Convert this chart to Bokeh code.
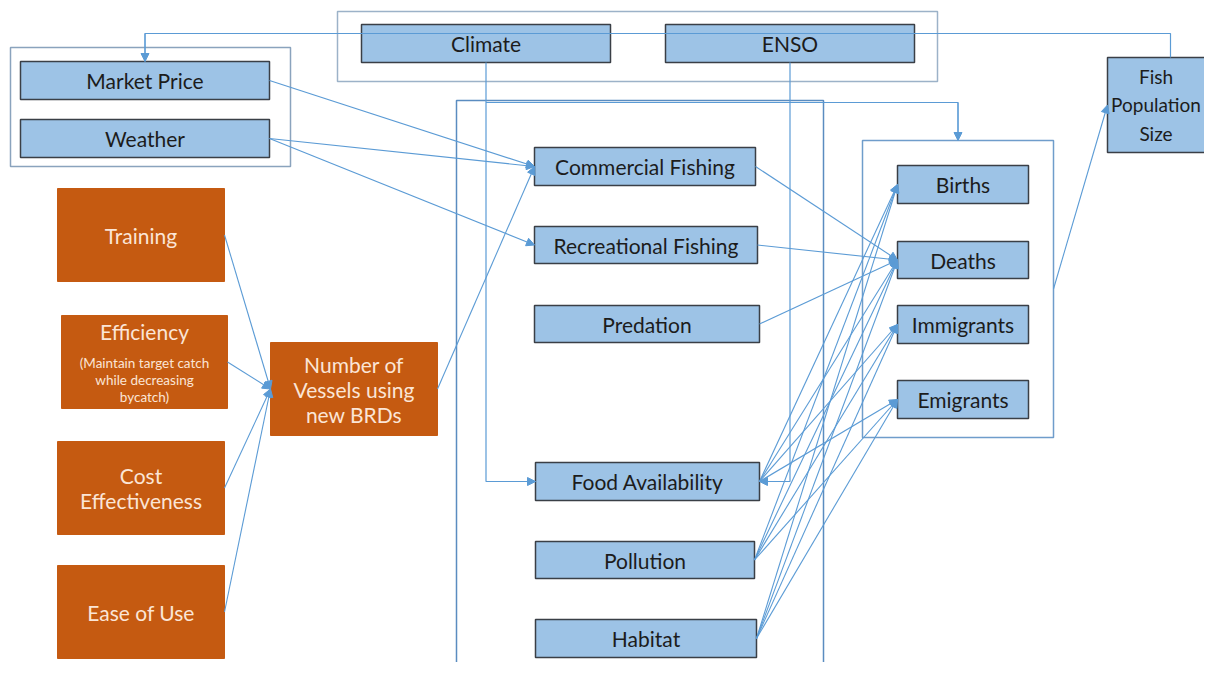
from bokeh.plotting import figure
from bokeh.models import Range1d, Arrow, NormalHead, ColumnDataSource
from bokeh.core.properties import value
from bokeh.embed import file_html
from bokeh.resources import INLINE

# ---------------- content ----------------
blue_keys = ["climate", "enso", "market", "weather", "commercial", "recreational",
             "predation", "food", "pollution", "habitat", "births", "deaths",
             "immigrants", "emigrants"]
blue_labels = ["Climate", "ENSO", "Market Price", "Weather", "Commercial Fishing",
               "Recreational Fishing", "Predation", "Food Availability", "Pollution",
               "Habitat", "Births", "Deaths", "Immigrants", "Emigrants"]
fishpop_label = "Fish\nPopulation\nSize"
orange_keys = ["training", "efficiency", "cost", "ease", "vessels"]
orange_labels = ["Training", "Efficiency", "Cost\nEffectiveness", "Ease of Use",
                 "Number of\nVessels using\nnew BRDs"]
efficiency_note = "(Maintain target catch\nwhile decreasing\nbycatch)"

# straight influence links (source -> target)
links_src = ["market", "weather", "weather", "vessels",
             "training", "efficiency", "cost", "ease",
             "commercial", "recreational", "predation",
             "food", "food", "food", "food",
             "pollution", "pollution", "pollution", "pollution",
             "habitat", "habitat", "habitat", "habitat",
             "dynamics"]
links_dst = ["commercial", "commercial", "recreational", "commercial",
             "vessels", "vessels", "vessels", "vessels",
             "deaths", "deaths", "deaths",
             "births", "deaths", "immigrants", "emigrants",
             "births", "deaths", "immigrants", "emigrants",
             "births", "deaths", "immigrants", "emigrants",
             "fishpop"]

# ---------------- layout (reference pixel space) ----------------
W, H = 1204, 662
LAYOUT = {
    "climate": (361, 24, 610, 62), "enso": (665, 24, 914, 62),
    "market": (20, 61, 269, 99), "weather": (20, 119, 269, 157),
    "commercial": (534, 147, 755, 185), "recreational": (534, 226, 757, 263),
    "predation": (534, 305, 759, 342), "food": (535, 462, 759, 500),
    "pollution": (535, 541, 754, 578), "habitat": (535, 619, 756, 657),
    "births": (897, 165, 1028, 203), "deaths": (897, 241, 1028, 278),
    "immigrants": (897, 305, 1028, 343), "emigrants": (897, 380, 1028, 418),
    "fishpop": (1107, 57, 1233, 152),
    "training": (57, 188, 224, 281), "efficiency": (61, 315, 227, 408),
    "cost": (57, 441, 224, 534), "ease": (57, 565, 224, 658),
    "vessels": (270, 342, 437, 435),
}
GROUPS = {
    "drivers": (337, 11, 937, 81), "economy": (10, 47, 290, 166),
    "pressures": (456, 100, 823, 720), "dynamics": (862, 140, 1053, 437),
}
GROUP_COLORS = {"drivers": "#9cb2c8", "economy": "#8aa3bd",
                "pressures": "#5a8cc0", "dynamics": "#6f9dcb"}
ROUTE_TOP = 33
ROUTE_MID = 102

BLUE_FILL = "#9dc3e6"
ORANGE_FILL = "#c55a11"
LINK = "#5b9bd5"

ALL = dict(LAYOUT)
ALL.update(GROUPS)


def right_mid(k):
    x0, y0, x1, y1 = ALL[k]
    return x1, (y0 + y1) / 2


def left_mid(k):
    x0, y0, x1, y1 = ALL[k]
    return x0, (y0 + y1) / 2


def center(k):
    x0, y0, x1, y1 = ALL[k]
    return (x0 + x1) / 2, (y0 + y1) / 2


p = figure(width=W, height=H, output_backend="svg", toolbar_location=None,
           x_range=Range1d(0, W), y_range=Range1d(H, 0), min_border=0,
           background_fill_color="white", border_fill_color="white")
p.axis.visible = False
p.grid.visible = False
p.outline_line_color = None

# group frames
gk = list(GROUPS)
p.quad(left=[GROUPS[k][0] for k in gk], right=[GROUPS[k][2] for k in gk],
       top=[GROUPS[k][1] for k in gk], bottom=[GROUPS[k][3] for k in gk],
       fill_color=None, line_color=[GROUP_COLORS[k] for k in gk], line_width=1.5)

# blue boxes
bk = blue_keys + ["fishpop"]
p.quad(left=[LAYOUT[k][0] for k in bk], right=[LAYOUT[k][2] for k in bk],
       top=[LAYOUT[k][1] for k in bk], bottom=[LAYOUT[k][3] for k in bk],
       fill_color=BLUE_FILL, line_color="#3a3f46", line_width=1.5)
# orange boxes
p.quad(left=[LAYOUT[k][0] for k in orange_keys], right=[LAYOUT[k][2] for k in orange_keys],
       top=[LAYOUT[k][1] for k in orange_keys], bottom=[LAYOUT[k][3] for k in orange_keys],
       fill_color=ORANGE_FILL, line_color=ORANGE_FILL, line_width=1)

# routed connectors (polylines) with arrow on final segment
fx, fy = center("fishpop")
mx, _ = center("market")
cx, _ = center("climate")
ex, _ = center("enso")
dx, _ = center("dynamics")
food_l = left_mid("food")
food_r = right_mid("food")
routes = [
    ([fx, fx, mx, mx], [ALL["fishpop"][1], ROUTE_TOP, ROUTE_TOP, ALL["market"][1]]),
    ([cx, cx, food_l[0]], [ALL["climate"][3], food_l[1], food_l[1]]),
    ([cx, dx, dx], [ROUTE_MID, ROUTE_MID, ALL["dynamics"][1]]),
    ([ex, ex, food_r[0]], [ALL["enso"][3], food_r[1], food_r[1]]),
]
p.multi_line(xs=[r[0] for r in routes], ys=[r[1] for r in routes],
             line_color=LINK, line_width=1.2)

xs0, ys0, xs1, ys1 = [], [], [], []
for xs, ys in routes:
    xs0.append(xs[-2]); ys0.append(ys[-2]); xs1.append(xs[-1]); ys1.append(ys[-1])
for s, d in zip(links_src, links_dst):
    a = right_mid(s)
    b = left_mid(d)
    xs0.append(a[0]); ys0.append(a[1]); xs1.append(b[0]); ys1.append(b[1])
src = ColumnDataSource(dict(x0=xs0, y0=ys0, x1=xs1, y1=ys1))
p.add_layout(Arrow(source=src, x_start="x0", y_start="y0", x_end="x1", y_end="y1",
                   line_color=LINK, line_width=1.1,
                   end=NormalHead(size=8, fill_color=LINK, line_color=LINK, line_width=1)))

# labels
FONT = value("Lato")
bx = [center(k)[0] for k in blue_keys]
by = [center(k)[1] for k in blue_keys]
p.text(x=bx, y=by, text=blue_labels, text_align="center", text_baseline="middle",
       text_font=FONT, text_font_size="21px", text_color="#1c1c1c")

# fish population label centred in the visible part of its box
f0, f1, f2, f3 = LAYOUT["fishpop"]
p.text(x=[(f0 + min(f2, W)) / 2], y=[(f1 + f3) / 2], text=[fishpop_label],
       text_align="center", text_baseline="middle", text_font=FONT,
       text_font_size="19px", text_color="#1c1c1c", text_line_height=1.24)

ok = [k for k in orange_keys if k != "efficiency"]
ol = [l for k, l in zip(orange_keys, orange_labels) if k != "efficiency"]
p.text(x=[center(k)[0] for k in ok], y=[center(k)[1] for k in ok], text=ol,
       text_align="center", text_baseline="middle", text_font=FONT,
       text_font_size="21px", text_color="#fbe5d6", text_line_height=1.0)
e0, e1, e2, e3 = LAYOUT["efficiency"]
p.text(x=[(e0 + e2) / 2], y=[e1 + 16], text=[orange_labels[1]], text_align="center",
       text_baseline="middle", text_font=FONT, text_font_size="21px",
       text_color="#fbe5d6")
p.text(x=[(e0 + e2) / 2], y=[(e1 + e3) / 2 + 18], text=[efficiency_note],
       text_align="center", text_baseline="middle", text_font=FONT,
       text_font_size="13.5px", text_color="#fbe5d6", text_line_height=1.06)

open("out.html", "w").write(file_html(p, INLINE))
